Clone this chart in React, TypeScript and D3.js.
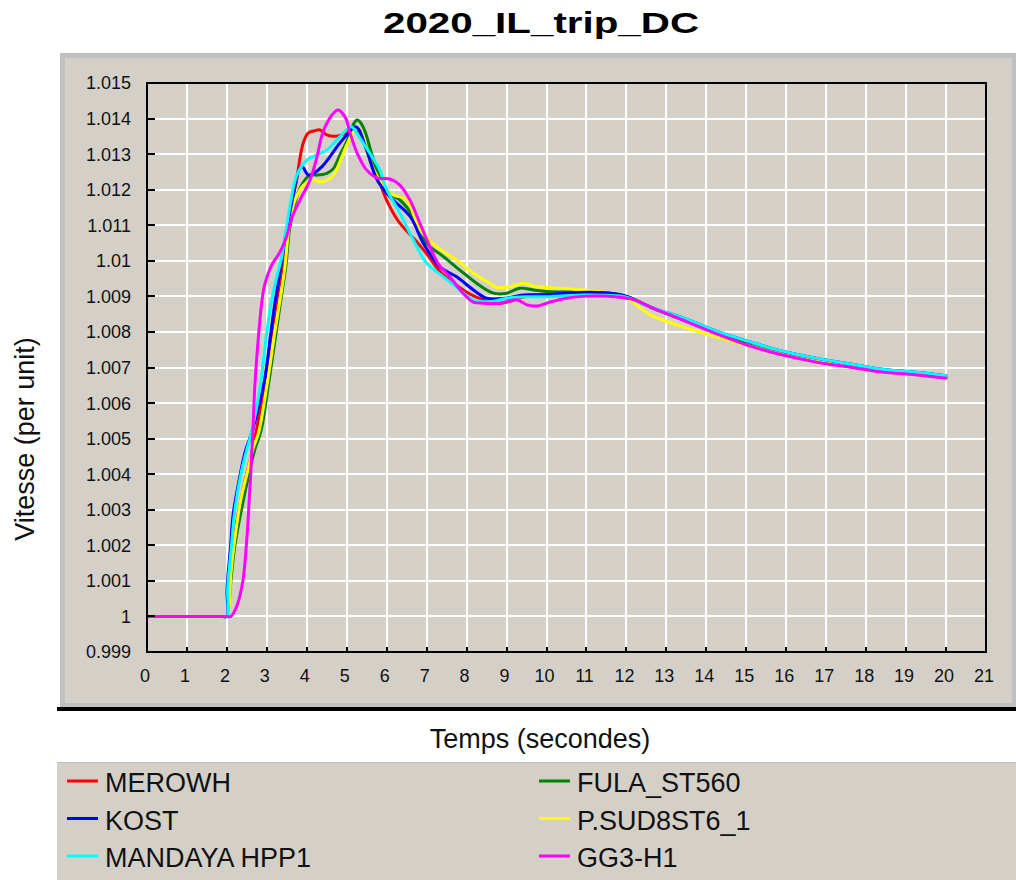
import React from 'react';
import * as d3 from 'd3';

type Pt = [number, number];

const seriesNames = ['MEROWH', 'KOST', 'MANDAYA HPP1', 'FULA_ST560', 'P.SUD8ST6_1', 'GG3-H1'];
const seriesColors = ['#ff0000', '#0000ff', '#00ffff', '#008000', '#ffff00', '#ff00ff'];

// time (s), speed (pu)
const merowh: Pt[] = [
  [0, 1], [1.9, 1], [2.0, 1], [2.05, 1.001], [2.15, 1.002], [2.3, 1.003], [2.45, 1.0038], [2.6, 1.0045],
  [2.75, 1.0053], [2.95, 1.0066], [3.1, 1.0078], [3.25, 1.0089], [3.4, 1.0099], [3.55, 1.0112], [3.75, 1.0123],
  [3.83, 1.0129], [3.92, 1.01335], [4.04, 1.0136], [4.17, 1.01365], [4.33, 1.01368], [4.5, 1.01354], [4.71, 1.0135],
  [4.92, 1.01356], [5.08, 1.01368], [5.18, 1.01375], [5.41, 1.0134], [5.6, 1.0128], [5.76, 1.0124], [6.0, 1.0117],
  [6.3, 1.0111], [6.7, 1.0106], [7.0, 1.0102], [7.33, 1.0097], [7.76, 1.0093], [8.2, 1.009], [8.8, 1.0088],
  [9.5, 1.009], [10.5, 1.0091], [11.2, 1.0091], [12, 1.009], [12.6, 1.0087], [13.4, 1.00835], [14.3, 1.00795],
  [15.1, 1.00762], [15.9, 1.00737], [16.8, 1.00717], [17.6, 1.00703], [18.4, 1.00689], [19.3, 1.0068], [20, 1.00672],
];

const kost: Pt[] = [
  [0, 1], [1.9, 1], [2.0, 1], [2.003, 1.0007], [2.03, 1.0012], [2.08, 1.0018], [2.16, 1.0029], [2.3, 1.0038],
  [2.45, 1.0046], [2.63, 1.0052], [2.75, 1.0057], [2.95, 1.0067], [3.08, 1.0078], [3.2, 1.0088], [3.33, 1.0097],
  [3.45, 1.0106], [3.55, 1.0112], [3.67, 1.0119], [3.8, 1.01255], [3.88, 1.01265], [4.04, 1.01241], [4.17, 1.01246],
  [4.38, 1.01265], [4.58, 1.01293], [4.79, 1.01326], [5.0, 1.01354], [5.21, 1.01377], [5.3, 1.0137], [5.5, 1.0131],
  [5.75, 1.0123], [6.0, 1.0119], [6.17, 1.0117], [6.59, 1.01124], [6.92, 1.01049], [7.33, 1.00983], [7.75, 1.00955],
  [8.17, 1.00918], [8.5, 1.00895], [9.0, 1.00895], [9.42, 1.00904], [9.92, 1.00904], [10.76, 1.00911], [11.5, 1.0091],
  [12, 1.009], [12.6, 1.0087], [13.4, 1.0084], [14.3, 1.008], [15.1, 1.00772], [15.9, 1.00746], [16.8, 1.00725],
  [17.6, 1.0071], [18.4, 1.00695], [19.3, 1.00686], [20, 1.00677],
];

const mandaya: Pt[] = [
  [0, 1], [1.9, 1], [2.0, 1], [2.02, 1.0008], [2.1, 1.0018], [2.2, 1.003], [2.35, 1.004], [2.5, 1.0047],
  [2.62, 1.0052], [2.83, 1.00645], [3.0, 1.008], [3.12, 1.0089], [3.25, 1.00955], [3.37, 1.0101], [3.5, 1.011],
  [3.62, 1.0118], [3.75, 1.01241], [4.0, 1.01283], [4.25, 1.01298], [4.5, 1.01312], [4.75, 1.0134], [5.0, 1.01368],
  [5.12, 1.01377], [5.33, 1.01345], [5.58, 1.01302], [5.83, 1.01255], [6.0, 1.012], [6.33, 1.01134], [6.67, 1.01058],
  [7.0, 1.00993], [7.42, 1.00955], [7.83, 1.00918], [8.17, 1.0089], [8.58, 1.00885], [9.0, 1.00895], [9.5, 1.00899],
  [10.09, 1.00899], [10.92, 1.00904], [11.5, 1.00903], [12, 1.00898], [12.6, 1.0087], [13.4, 1.0084], [14.3, 1.008],
  [15.1, 1.00772], [15.9, 1.00746], [16.8, 1.00725], [17.6, 1.0071], [18.4, 1.00695], [19.3, 1.00686], [20, 1.00677],
];

const fula: Pt[] = [
  [0, 1], [1.9, 1], [2.0, 1], [2.05, 1.0003], [2.1, 1.001], [2.2, 1.002], [2.4, 1.0032], [2.55, 1.004],
  [2.7, 1.0047], [2.85, 1.0052], [3.05, 1.0066], [3.22, 1.0079], [3.35, 1.0089], [3.47, 1.0098], [3.57, 1.0109],
  [3.7, 1.0116], [3.83, 1.01205], [4.08, 1.01241], [4.25, 1.01241], [4.5, 1.01246], [4.67, 1.0126], [4.83, 1.01298],
  [5.0, 1.01335], [5.12, 1.01373], [5.25, 1.01396], [5.33, 1.01391], [5.46, 1.01363], [5.6, 1.0131], [5.8, 1.0124],
  [6.0, 1.012], [6.2, 1.0118], [6.33, 1.01171], [6.67, 1.01124], [7.0, 1.01049], [7.42, 1.01012], [7.83, 1.00974],
  [8.25, 1.00937], [8.67, 1.00909], [9.0, 1.00909], [9.33, 1.00923], [9.67, 1.00918], [10.09, 1.00913], [10.84, 1.00913],
  [11.5, 1.0091], [12, 1.009], [12.6, 1.0087], [13.4, 1.00835], [14.3, 1.00795], [15.1, 1.00762], [15.9, 1.00737],
  [16.8, 1.00717], [17.6, 1.00703], [18.4, 1.00689], [19.3, 1.0068], [20, 1.00672],
];

const psud: Pt[] = [
  [0, 1], [1.9, 1], [2.0, 1], [2.05, 1.0002], [2.1, 1.0012], [2.2, 1.0022], [2.35, 1.0033], [2.5, 1.004],
  [2.65, 1.0047], [2.8, 1.0052], [3.03, 1.0067], [3.2, 1.008], [3.33, 1.0089], [3.45, 1.0098], [3.55, 1.0109],
  [3.7, 1.0117], [3.92, 1.01213], [4.17, 1.01227], [4.33, 1.01222], [4.5, 1.01227], [4.67, 1.01241], [4.83, 1.01279],
  [5.0, 1.01326], [5.17, 1.01363], [5.29, 1.01373], [5.42, 1.01345], [5.5, 1.01307], [5.75, 1.0124], [6.0, 1.012],
  [6.17, 1.01185], [6.5, 1.01171], [6.83, 1.01087], [7.25, 1.0104], [7.75, 1.01002], [8.17, 1.00965], [8.58, 1.00937],
  [8.75, 1.00925], [9.09, 1.00927], [9.42, 1.00937], [9.75, 1.00927], [10.26, 1.00923], [10.92, 1.00918], [11.5, 1.0091],
  [12, 1.00895], [12.6, 1.00848], [13.4, 1.00815], [14.1, 1.00791], [14.6, 1.00775], [15.1, 1.0076], [15.9, 1.00737],
  [16.8, 1.00717], [17.6, 1.00703], [18.4, 1.00689], [19.3, 1.0068], [20, 1.00672],
];

const gg3: Pt[] = [
  [0, 1], [1.9, 1], [2.0, 1], [2.1, 1.0], [2.25, 1.0003], [2.4, 1.001], [2.5, 1.0022], [2.55, 1.0031],
  [2.6, 1.0041], [2.65, 1.0052], [2.7, 1.0065], [2.8, 1.008], [2.88, 1.0089], [2.95, 1.00935], [3.12, 1.00988],
  [3.33, 1.01025], [3.5, 1.0107], [3.62, 1.0112], [3.83, 1.01171], [4.08, 1.01227], [4.25, 1.0129], [4.4, 1.0136],
  [4.63, 1.0141], [4.78, 1.01424], [4.96, 1.01404], [5.08, 1.0136], [5.26, 1.01303], [5.5, 1.01255], [5.76, 1.01233],
  [6.08, 1.0123], [6.33, 1.01213], [6.58, 1.01171], [6.83, 1.01106], [7.08, 1.0104], [7.3, 1.0099], [7.58, 1.00955],
  [7.91, 1.00909], [8.16, 1.00884], [8.41, 1.00881], [8.84, 1.00881], [9.26, 1.0089], [9.51, 1.00876], [9.76, 1.00873],
  [10.09, 1.00884], [10.5, 1.00895], [10.9, 1.009], [11.34, 1.00901], [11.76, 1.00898], [12.2, 1.0089], [12.6, 1.0087],
  [13.4, 1.00834], [14.27, 1.00794], [15.1, 1.0076], [15.92, 1.00735], [16.77, 1.00715], [17.6, 1.00701], [18.42, 1.00687],
  [19.27, 1.00679], [20, 1.0067],
];

const seriesData = [merowh, kost, mandaya, fula, psud, gg3];
// drawing order (bottom -> top)
const drawOrder = [0, 3, 4, 1, 2, 5];

const xTickValues = d3.range(0, 22);
const yTickValues = d3.range(0, 17).map(i => +(0.999 + i * 0.001).toFixed(3));
const yTickLabels = ['0.999', '1', '1.001', '1.002', '1.003', '1.004', '1.005', '1.006', '1.007', '1.008',
  '1.009', '1.01', '1.011', '1.012', '1.013', '1.014', '1.015'];

const FONT = '"Liberation Sans", Arial, Helvetica, sans-serif';
const PANEL = '#d4d0c8';

export default function App() {
  const W = 1016;
  const H = 880;
  const plot = { left: 147, right: 986, top: 83, bottom: 652 };

  const x = d3.scaleLinear().domain([0, 21]).range([plot.left, plot.right]);
  const y = d3.scaleLinear().domain([0.999, 1.015]).range([plot.bottom, plot.top]);

  const line = d3.line<Pt>()
    .x(d => x(d[0]))
    .y(d => y(d[1]))
    .curve(d3.curveCatmullRom.alpha(0.5));

  return (
    <div style={{ position: 'absolute', left: 0, top: 0 }}>
      <svg width={W} height={H} style={{ display: 'block', background: '#fff', fontFamily: FONT }}>
        {/* title */}
        <text x={541} y={33} textAnchor="middle" fontSize={30} fontWeight="bold" fill="#000"
          textLength={316} lengthAdjust="spacingAndGlyphs">
          2020_IL_trip_DC
        </text>

        {/* chart panel with 3D frame */}
        <rect x={60} y={53} width={W - 60} height={655} fill="#c0c0c0" />
        <rect x={65} y={58} width={W - 65 - 4} height={645} fill={PANEL} />
        <line x1={57} x2={W} y1={709} y2={709} stroke="#000" strokeWidth={4} />

        {/* plot area */}
        <rect x={plot.left} y={plot.top} width={plot.right - plot.left} height={plot.bottom - plot.top} fill={PANEL} />
        <g shapeRendering="crispEdges">
          {xTickValues.slice(1, -1).map(t => (
            <line key={'gx' + t} x1={x(t)} x2={x(t)} y1={plot.top} y2={plot.bottom} stroke="#fff" strokeWidth={2} />
          ))}
          {yTickValues.slice(1, -1).map(v => (
            <line key={'gy' + v} x1={plot.left} x2={plot.right} y1={y(v)} y2={y(v)} stroke="#fff" strokeWidth={2} />
          ))}
        </g>

        {/* series */}
        <g clipPath="url(#plotClip)">
          {drawOrder.map(i => (
            <path key={seriesNames[i]} d={line(seriesData[i]) || ''} fill="none" stroke={seriesColors[i]}
              strokeWidth={3} strokeLinejoin="round" strokeLinecap="round" />
          ))}
        </g>
        <defs>
          <clipPath id="plotClip">
            <rect x={plot.left} y={plot.top - 2} width={plot.right - plot.left} height={plot.bottom - plot.top + 2} />
          </clipPath>
        </defs>

        {/* axes frame and ticks */}
        <g shapeRendering="crispEdges">
          <rect x={plot.left} y={plot.top} width={plot.right - plot.left} height={plot.bottom - plot.top}
            fill="none" stroke="#000" strokeWidth={2} />
          {yTickValues.map(v => (
            <line key={'ty' + v} x1={plot.left} x2={plot.left + 8} y1={y(v)} y2={y(v)} stroke="#000" strokeWidth={2} />
          ))}
          {xTickValues.map(t => (
            <line key={'tx' + t} x1={x(t)} x2={x(t)} y1={plot.bottom} y2={plot.bottom - 5} stroke="#000" strokeWidth={2} />
          ))}
        </g>

        {/* tick labels */}
        <g fontSize={18} fill="#111">
          {yTickValues.map((v, i) => (
            <text key={'ly' + v} x={131} y={y(v)} dy="0.36em" textAnchor="end">{yTickLabels[i]}</text>
          ))}
          {xTickValues.map(t => (
            <text key={'lx' + t} x={x(t) - 2} y={682} textAnchor="middle">{t}</text>
          ))}
        </g>

        {/* axis titles */}
        <text x={540} y={748} textAnchor="middle" fontSize={27} fill="#111">Temps (secondes)</text>
        <text transform="translate(34,439) rotate(-90)" textAnchor="middle" fontSize={27} fill="#111">
          Vitesse (per unit)
        </text>

        {/* legend */}
        <rect x={57} y={762} width={W - 57} height={H - 762} fill={PANEL} />
        <line x1={57} x2={W} y1={762.5} y2={762.5} stroke="#bdbdbd" strokeWidth={1} />
        {seriesNames.map((name, i) => {
          const col = Math.floor(i / 3);
          const row = i % 3;
          const lx = col === 0 ? 67 : 539;
          const base = 792 + row * 37.5;
          return (
            <g key={'lg' + name}>
              <line x1={lx} x2={lx + 31} y1={base - 11} y2={base - 11} stroke={seriesColors[i]} strokeWidth={3} />
              <text x={lx + 38} y={base} fontSize={27} fill="#111">{name}</text>
            </g>
          );
        })}
      </svg>
    </div>
  );
}
